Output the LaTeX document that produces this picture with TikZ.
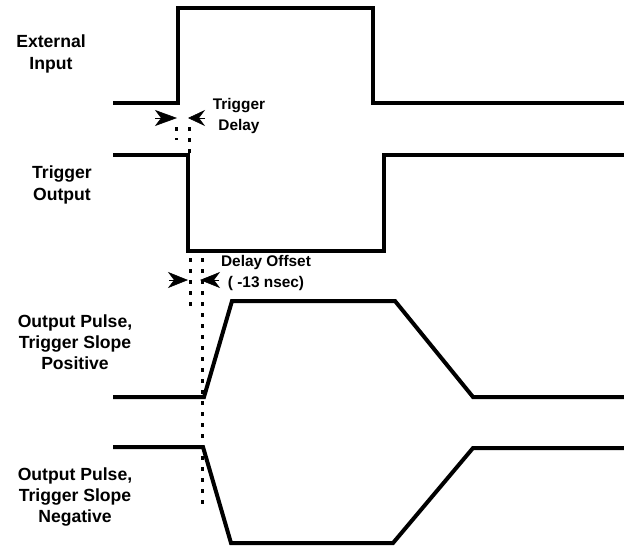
\documentclass[tikz,border=0pt]{standalone}
\usepackage{fontspec}
\setmainfont{Liberation Sans}
\usepackage{tikz}
\usetikzlibrary{arrows.meta,positioning}

\begin{document}
\begin{tikzpicture}[x=0.5pt,y=-0.5pt,
    wave/.style={line width=2pt,line join=miter},
    guide/.style={line width=1.5pt,dash pattern=on 2pt off 3.5pt},
    tipmark/.style={line width=0.3pt,-{Stealth[length=#1,width=8pt,inset=3pt]}},
    tipmark/.default=10pt,
    sig/.style={font=\bfseries\fontsize{8.8}{10.6}\selectfont,align=center},
    note/.style={font=\bfseries\fontsize{7.7}{10.8}\selectfont,align=center}]
  \useasboundingbox (0,0) rectangle (624,546);
  % signal names on the left
  \node[sig] (extin) at (51,54) {External\\Input};
  \node[sig] (trigout) at (62,185) {Trigger\\Output};
  \node[sig] (pospulse) at (75,342) {Output Pulse,\\Trigger Slope\\Positive};
  \node[sig] (negpulse) at (75,497) {Output Pulse,\\Trigger Slope\\Negative};
  % waveforms
  \draw[wave] (113,103) -- (178,103) -- (178,8) -- (373,8) -- (373,103) -- (624,103);
  \draw[wave] (113,155) -- (188,155) -- (188,251) -- (384,251) -- (384,155) -- (624,155);
  \draw[wave] (113,397) -- (204,397) -- (232,301) -- (395,301) -- (473,397) -- (624,397);
  \draw[wave] (113,447) -- (203,447) -- (231,543) -- (393,543) -- (473,448) -- (624,448);
  % dotted guides
  \draw[guide] (176,127) -- (176,140);
  \draw[guide] (189,127) -- (189,153);
  \draw[guide] (190,258) -- (190,312);
  \draw[guide] (202,258) -- (202,505);
  % trigger delay marks
  \coordinate (tdl) at (155,118);
  \coordinate (tdr) at (205,118);
  \draw[tipmark=11pt] (tdl) -- ++(22,0);
  \draw[tipmark=8.5pt] (tdr) -- ++(-17,0);
  \node[note] (tdelay) at (239,116) {Trigger\\Delay};
  % delay offset marks
  \coordinate (dol) at (169,280);
  \coordinate (dor) at (219,280);
  \draw[tipmark] (dol) -- ++(19,0);
  \draw[tipmark] (dor) -- ++(-19,0);
  \node[note] (doffset) at (266,273) {Delay Offset\\( -13 nsec)};
\end{tikzpicture}
\end{document}
